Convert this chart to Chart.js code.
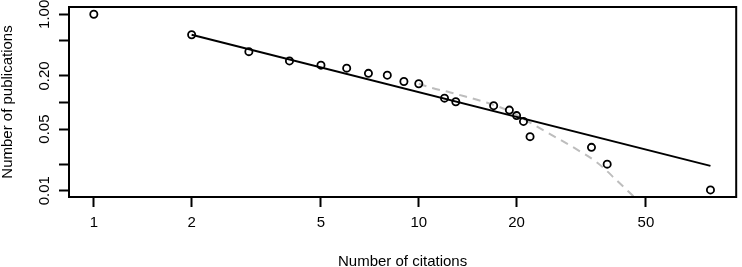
<!DOCTYPE html>
<html>
<head>
<meta charset="utf-8">
<script src="https://cdn.jsdelivr.net/npm/chart.js@4/dist/chart.umd.min.js"></script>
<style>
  html, body { margin: 0; padding: 0; background: #ffffff; }
  #c { display: block; }
</style>
</head>
<body>
<canvas id="c" width="742" height="267"></canvas>
<script>
// ---- data ----
const citations = [1, 2, 3, 4, 5, 6, 7, 8, 9, 10, 12, 13, 17, 19, 20, 21, 22, 34, 38, 79];
const publications = [1.0, 0.587, 0.377, 0.296, 0.265, 0.245, 0.214, 0.204, 0.173, 0.163,
                      0.112, 0.102, 0.092, 0.082, 0.071, 0.061, 0.041, 0.031, 0.020, 0.0102];

// power-law fit (solid black line)
const fitX = [2, 79];
const fitY = [0.587, 0.0191];

// cutoff curve (grey dashed line)
const cutX = [10, 11, 12.5, 14, 16, 19, 21.5, 25.6, 30.2, 35.6, 41, 46];
const cutY = [0.163, 0.146, 0.130, 0.116, 0.101, 0.080, 0.062, 0.043, 0.0303, 0.0205, 0.0127, 0.0085];

// axis ticks
const xTicks = [1, 2, 5, 10, 20, 50];
const xTickLabels = ['1', '2', '5', '10', '20', '50'];
const yTicks = [1, 0.5, 0.2, 0.1, 0.05, 0.02, 0.01];
const yTickLabels = ['1.00', '', '0.20', '', '0.05', '', '0.01'];

const xTitle = 'Number of citations';
const yTitle = 'Number of publications';

// ---- chart ----
const FONT = 'Liberation Sans, Arial, Helvetica, sans-serif';
const FSIZE = 15;

const toPts = (xs, ys) => xs.map((x, i) => ({ x: x, y: ys[i] }));

const boxPlugin = {
  id: 'boxAndYLabels',
  afterDraw(chart) {
    const ctx = chart.ctx;
    const a = chart.chartArea;
    ctx.save();
    ctx.strokeStyle = '#000';
    ctx.lineWidth = 2;
    ctx.strokeRect(a.left, a.top, a.right - a.left, a.bottom - a.top);
    // rotated y tick labels (R style, parallel to the axis)
    const ys = chart.scales.y;
    ctx.fillStyle = '#000';
    ctx.font = FSIZE + 'px ' + FONT;
    ctx.textAlign = 'center';
    ctx.textBaseline = 'middle';
    yTicks.forEach((v, i) => {
      const lab = yTickLabels[i];
      if (!lab) return;
      ctx.save();
      ctx.translate(45, ys.getPixelForValue(v));
      ctx.rotate(-Math.PI / 2);
      ctx.fillText(lab, 0, 0);
      ctx.restore();
    });
    ctx.restore();
  }
};

new Chart(document.getElementById('c'), {
  type: 'scatter',
  data: {
    datasets: [
      {
        label: 'data',
        data: toPts(citations, publications),
        showLine: false,
        pointStyle: 'circle',
        pointRadius: 3.6,
        pointBorderWidth: 1.8,
        pointBorderColor: '#000',
        pointBackgroundColor: 'rgba(0,0,0,0)',
        order: 1
      },
      {
        label: 'fit',
        data: toPts(fitX, fitY),
        showLine: true,
        borderColor: '#000',
        borderWidth: 2,
        pointRadius: 0,
        order: 2
      },
      {
        label: 'cutoff',
        data: toPts(cutX, cutY),
        showLine: true,
        borderColor: '#bdbdbd',
        borderWidth: 2,
        borderDash: [8, 6],
        cubicInterpolationMode: 'monotone',
        pointRadius: 0,
        order: 3
      }
    ]
  },
  options: {
    responsive: false,
    animation: false,
    devicePixelRatio: 1,
    layout: { padding: { top: 7, right: 1, bottom: 0, left: 0 } },
    plugins: {
      legend: { display: false },
      tooltip: { enabled: false }
    },
    scales: {
      x: {
        type: 'logarithmic',
        position: 'bottom',
        min: 0.8387,
        max: 94.8,
        bounds: 'data',
        afterBuildTicks(scale) { scale.ticks = xTicks.map(v => ({ value: v })); },
        afterFit(scale) { scale.height = 70; },
        border: { display: false },
        grid: {
          display: true,
          drawOnChartArea: false,
          drawTicks: true,
          tickLength: 10,
          tickWidth: 2,
          tickColor: '#000'
        },
        ticks: {
          autoSkip: false,
          maxRotation: 0,
          minRotation: 0,
          padding: 7,
          color: '#000',
          font: { family: FONT, size: FSIZE, lineHeight: 1.2 },
          callback: (v, i) => xTickLabels[i]
        },
        title: {
          display: true,
          text: xTitle,
          color: '#000',
          font: { family: FONT, size: FSIZE, lineHeight: 1 },
          padding: { top: 0, bottom: -2 }
        }
      },
      y: {
        type: 'logarithmic',
        position: 'left',
        min: 0.00848,
        max: 1.21,
        bounds: 'data',
        afterBuildTicks(scale) { scale.ticks = yTicks.map(v => ({ value: v })); },
        afterFit(scale) { scale.width = 69; },
        border: { display: false },
        grid: {
          display: true,
          drawOnChartArea: false,
          drawTicks: true,
          tickLength: 10,
          tickWidth: 2,
          tickColor: '#000'
        },
        ticks: { display: false },
        title: {
          display: true,
          text: yTitle,
          color: '#000',
          font: { family: FONT, size: FSIZE, lineHeight: 1 },
          padding: { top: 0, bottom: 0 }
        }
      }
    }
  },
  plugins: [boxPlugin]
});
</script>
</body>
</html>
